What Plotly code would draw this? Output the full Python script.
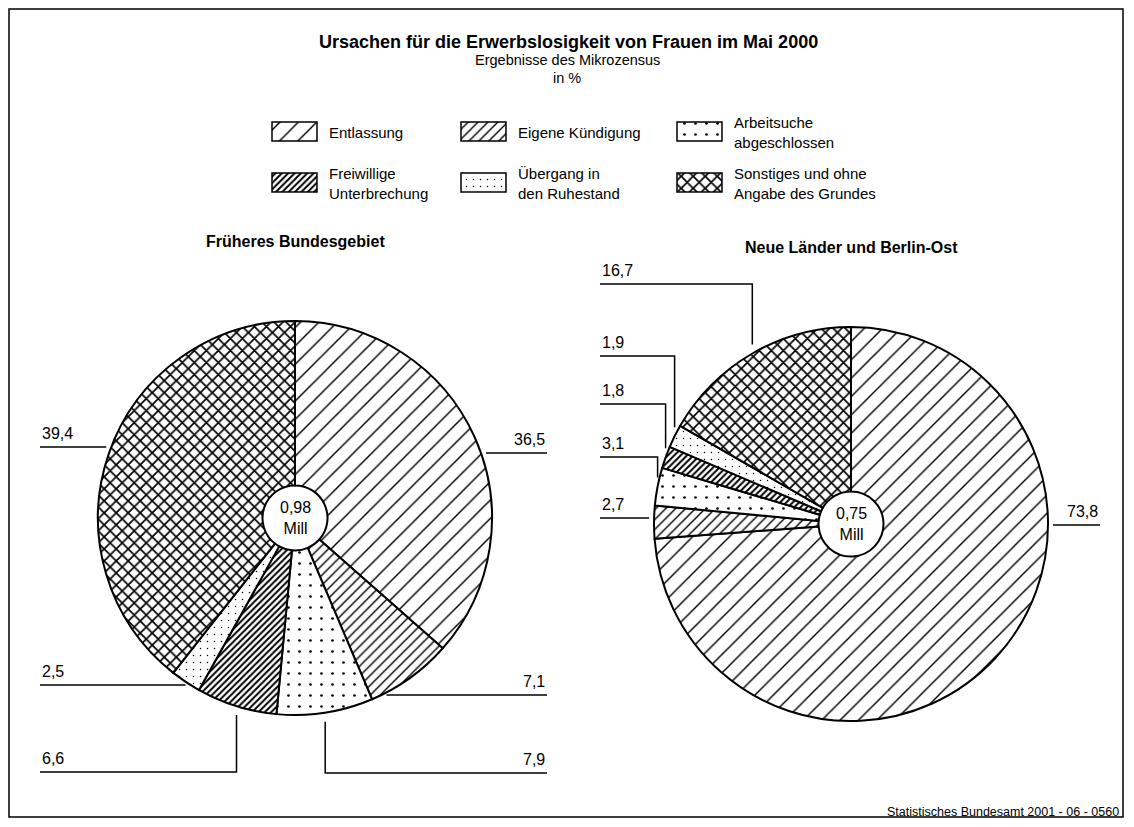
import numpy as np
import plotly.graph_objects as go

# data
categories = [
    "Entlassung",
    "Eigene Kündigung",
    "Arbeitsuche abgeschlossen",
    "Freiwillige Unterbrechung",
    "Übergang in den Ruhestand",
    "Sonstiges und ohne Angabe des Grundes",
]
legend_labels = [
    "Entlassung",
    "Eigene Kündigung",
    "Arbeitsuche<br>abgeschlossen",
    "Freiwillige<br>Unterbrechung",
    "Übergang in<br>den Ruhestand",
    "Sonstiges und ohne<br>Angabe des Grundes",
]
west_values = [36.5, 7.1, 7.9, 6.6, 2.5, 39.4]
east_values = [73.8, 2.7, 3.1, 1.8, 1.9, 16.7]
west_total = "0,98"
east_total = "0,75"

# page has an 8px body margin, so the figure is a bit smaller and
# the helper axis is shifted to page pixels
OFF = 8
W, H = 1117, 810
R = 197
HOLE = 0.165
FONT = "Liberation Sans, Arial, sans-serif"

# hatching per category
pat_shape = ["/", "/", ".", "/", ".", "x"]
pat_size = [13, 7, 11, 4.5, 7, 8.5]
pat_solid = [0.11, 0.2, 0.045, 0.45, 0.035, 0.37]

pies = [
    dict(values=west_values, total=west_total, title="Früheres Bundesgebiet",
         cx=295, cy=518, left=40, right=547,
         labels=[("r", 453, "h"), ("r", 695, "h"), ("r", 773, "e"),
                 ("l", 772, "e"), ("l", 685, "h"), ("l", 447, "h")]),
    dict(values=east_values, total=east_total, title="Neue Länder und Berlin-Ost",
         cx=851, cy=524, left=600, right=1100,
         labels=[("r", 525, "h"), ("l", 518, "h"), ("l", 457, "e"),
                 ("l", 404, "e"), ("l", 356, "e"), ("l", 284, "e")]),
]

fig = go.Figure()
shapes = []
annotations = []


def ann(x, y, text, size=15, xanchor="center", yanchor="middle", bold=False):
    if bold:
        text = f"<b>{text}</b>"
    align = {"left": "left", "right": "right"}.get(xanchor, "center")
    annotations.append(dict(x=x, y=y, xref="x", yref="y", text=text, showarrow=False,
                            xanchor=xanchor, yanchor=yanchor, align=align,
                            font=dict(size=size, color="black", family=FONT)))


def px_x(x):
    return (x - OFF) / W


def px_y(y):
    return 1 - (y - OFF) / H


for p in pies:
    cx, cy = p["cx"], p["cy"]
    fig.add_trace(go.Pie(
        labels=categories, values=p["values"], sort=False, direction="clockwise",
        rotation=0, hole=HOLE, textinfo="none", hoverinfo="label+value",
        showlegend=False,
        domain=dict(x=[px_x(cx - R), px_x(cx + R)], y=[px_y(cy + R), px_y(cy - R)]),
        marker=dict(colors=["white"] * 6, line=dict(color="black", width=2),
                    pattern=dict(shape=pat_shape, size=pat_size, solidity=pat_solid,
                                 fgcolor="black", bgcolor="white", fillmode="replace")),
    ))
    ann(cx, cy, f"{p['total']}<br>Mill", size=16)
    ann(cx, cy - R - 80, p["title"], size=16, bold=True)

    v = np.array(p["values"])
    ang = (np.cumsum(v) - v / 2) / v.sum() * 2 * np.pi
    ax = cx + R * np.sin(ang)
    ay = cy - R * np.cos(ang)
    for i, (side, ly, kind) in enumerate(p["labels"]):
        xe = p["left"] if side == "l" else p["right"]
        if kind == "h":
            dx = np.sqrt(R ** 2 - (ly - cy) ** 2) + 5
            xs = cx - dx if side == "l" else cx + dx
            path = f"M{xe},{ly} L{xs:.1f},{ly}"
        else:
            gap = 9 if ly > ay[i] else -9
            path = f"M{ax[i]:.1f},{ay[i] + gap:.1f} L{ax[i]:.1f},{ly} L{xe},{ly}"
        shapes.append(dict(type="path", path=path, xref="x", yref="y",
                           line=dict(color="black", width=1.5)))
        txt = f"{v[i]:.1f}".replace(".", ",")
        ann(xe, ly - 3, txt, size=16, xanchor="left" if side == "l" else "right",
            yanchor="bottom")

# legend swatches
col_x = [272, 461, 677]
row_y = [122, 173]
sw_w, sw_h = 45, 19
sx = [col_x[i % 3] + sw_w / 2 for i in range(6)]
sy = [row_y[i // 3] for i in range(6)]
fig.add_trace(go.Bar(
    x=sx, y=[sw_h] * 6, base=sy, width=[sw_w] * 6, showlegend=False, hoverinfo="skip",
    marker=dict(color="white", line=dict(color="black", width=1.5),
                pattern=dict(shape=pat_shape, size=pat_size, solidity=pat_solid,
                             fgcolor="black", bgcolor="white", fillmode="replace")),
))
for i, lab in enumerate(legend_labels):
    ann(col_x[i % 3] + sw_w + 10, row_y[i // 3] + sw_h / 2 + 1, lab, size=15, xanchor="left")

# titles
ann(568, 42, "Ursachen für die Erwerbslosigkeit von Frauen im Mai 2000", size=18, bold=True)
ann(567, 60, "Ergebnisse des Mikrozensus", size=14.5)
ann(567, 78, "in %", size=14.5)
ann(1121, 812, "Statistisches Bundesamt 2001 - 06 - 0560", size=12.5, xanchor="right")

shapes.append(dict(type="rect", x0=9, y0=9, x1=OFF + W - 2, y1=OFF + H - 1,
                   xref="x", yref="y", line=dict(color="black", width=1.5), layer="below"))

fig.update_layout(
    width=W, height=H, margin=dict(l=0, r=0, t=0, b=0),
    paper_bgcolor="white", plot_bgcolor="white",
    xaxis=dict(range=[OFF, OFF + W], visible=False, fixedrange=True, domain=[0, 1]),
    yaxis=dict(range=[OFF + H, OFF], visible=False, fixedrange=True, domain=[0, 1]),
    shapes=shapes, annotations=annotations, showlegend=False,
    font=dict(family=FONT, color="black"),
)

fig.write_html("out.html")
